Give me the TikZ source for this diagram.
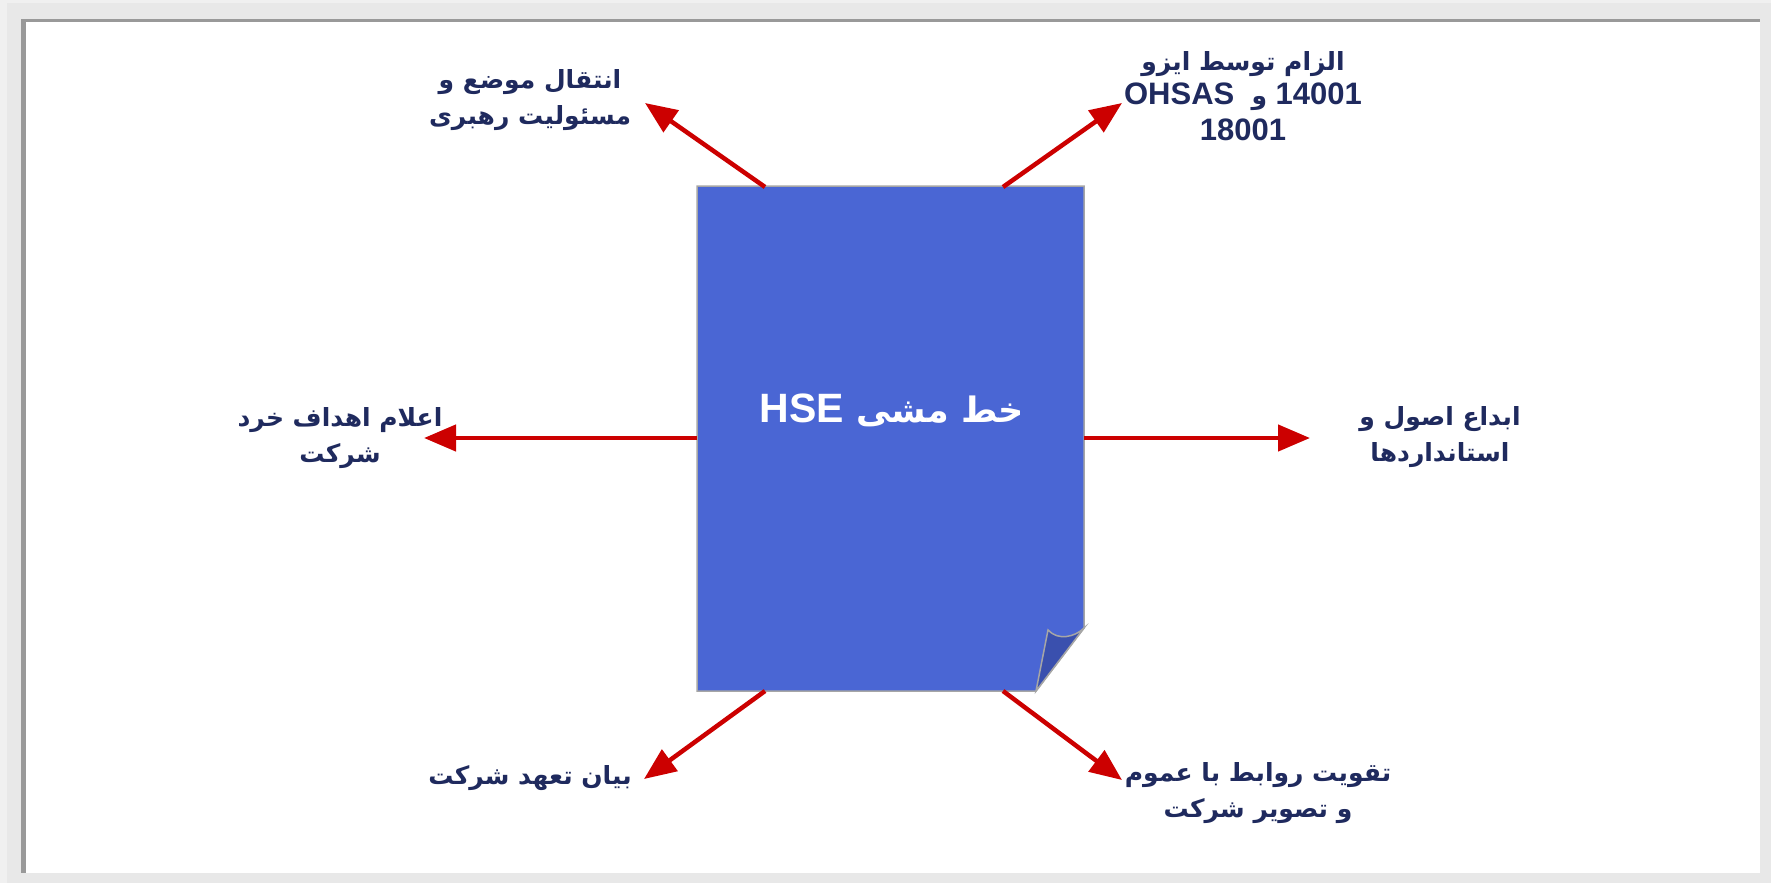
\documentclass[tikz,border=0pt]{standalone}
\usepackage{fontspec}
\usepackage{tikz}
\usetikzlibrary{arrows.meta}
\setmainfont{Liberation Sans}
\newfontfamily\arabicfont[Script=Arabic]{DejaVu Sans}
\newfontfamily\latinfont{Liberation Sans}
\TeXXeTstate=1

\definecolor{pageblue}{HTML}{4A66D4}
\definecolor{flapblue}{HTML}{3A50AE}
\definecolor{navy}{HTML}{1F2A5E}
\definecolor{arrowred}{HTML}{CC0000}
\definecolor{framegray}{HTML}{999999}

\tikzset{
  lbl/.style={font=\arabicfont\bfseries\fontsize{25}{36}\selectfont, text=navy, align=center, inner sep=0pt},
  ray/.style={arrowred, line width=4.5pt, -{Triangle[length=32pt,width=26pt]}}
}

\begin{document}
\begin{tikzpicture}[x=1pt,y=-1pt]
\useasboundingbox (0,0) rectangle (1771,883);
\fill[black!6] (0,0) rectangle (1771,883);
\fill[black!9] (7,3) rectangle (1771,883);
\fill[white] (21,19) rectangle (1760,873);
\fill[framegray] (21,19) rectangle (26,873);
\fill[framegray] (21,19) rectangle (1760,22);

% page with folded corner
\filldraw[fill=pageblue, draw=black!35, line width=1.5pt]
  (697,186) -- (1084,186) -- (1084,628) -- (1036,691) -- (697,691) -- cycle;
\filldraw[fill=flapblue, draw=black!35, line width=1.5pt]
  (1036,691) -- (1048,630) .. controls (1058,641) and (1075,637) .. (1084,628) -- cycle;
\node[font=\arabicfont\bfseries\fontsize{35}{44}\selectfont, text=white] (title) at (892,410)
  {\beginR خط مشی \beginL{\latinfont\fontsize{41}{48}\selectfont HSE}\endL\endR};

\coordinate (pTL) at (765,187);
\coordinate (pTR) at (1003,187);
\coordinate (pL) at (697,438);
\coordinate (pR) at (1084,438);
\coordinate (pBL) at (765,691);
\coordinate (pBR) at (1003,691);

\coordinate (tTL) at (645,103);
\coordinate (tTR) at (1122,103);
\coordinate (tL) at (424,438);
\coordinate (tR) at (1310,438);
\coordinate (tBL) at (644,779);
\coordinate (tBR) at (1122,780);

\draw[ray] (pTL) -- (tTL);
\draw[ray] (pTR) -- (tTR);
\draw[ray] (pL) -- (tL);
\draw[ray] (pR) -- (tR);
\draw[ray] (pBL) -- (tBL);
\draw[ray] (pBR) -- (tBR);

\node[lbl] (lead) at (530,100) {\beginR انتقال موضع و\endR\\\beginR مسئولیت رهبری\endR};
\node[lbl] (iso) at (1243,96) {\beginR الزام توسط ایزو\endR\\[-2pt]
  {\latinfont\fontsize{31}{40}\selectfont\beginR\beginL 14001\endL{} {\arabicfont\fontsize{25}{36}\selectfont و}\ \ \beginL OHSAS\endL\endR}\\
  {\latinfont\fontsize{31}{40}\selectfont 18001}};
\node[lbl] (goals) at (340,438) {\beginR اعلام اهداف خرد\endR\\\beginR شرکت\endR};
\node[lbl] (rules) at (1440,437) {\beginR ابداع اصول و\endR\\\beginR استانداردها\endR};
\node[lbl] (pledge) at (530,778) {\beginR بیان تعهد شرکت\endR};
\node[lbl] (public) at (1258,793) {\beginR تقویت روابط با عموم\endR\\\beginR و تصویر شرکت\endR};
\end{tikzpicture}
\end{document}
